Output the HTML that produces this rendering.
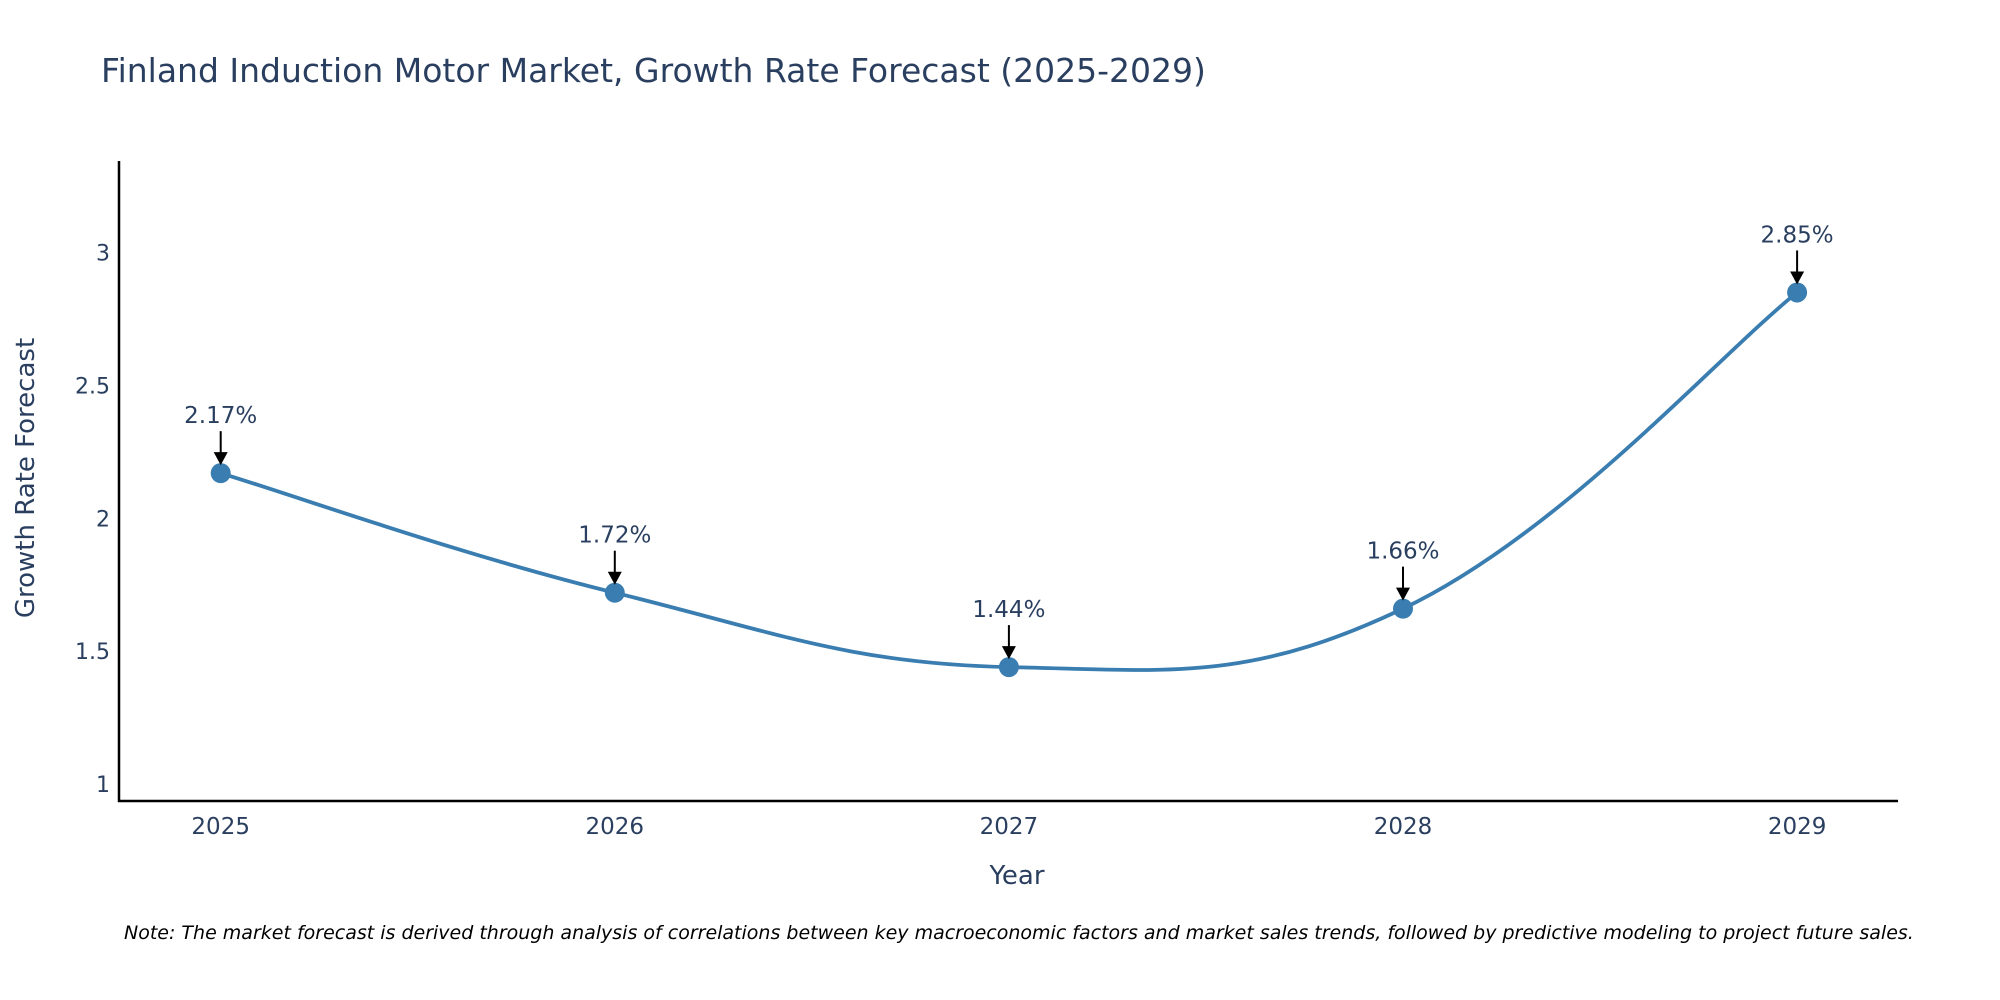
<!DOCTYPE html>
<html><head><meta charset="utf-8"><style>
html,body{margin:0;padding:0;background:#fff;}
svg{display:block;font-family:"DejaVu Sans","Liberation Sans",sans-serif;}
</style></head><body>
<svg id="chart" width="2000" height="1000" viewBox="0 0 2000 1000">
<text x="101" y="82" font-size="33" fill="#2a3f5f">Finland Induction Motor Market, Growth Rate Forecast (2025-2029)</text>
<g id="yticks"></g>
<g id="xticks"></g>
<line x1="119" y1="161" x2="119" y2="802" stroke="#000" stroke-width="2.5"/>
<line x1="118" y1="801" x2="1898" y2="801" stroke="#000" stroke-width="2.5"/>
<g id="series"></g>
<g id="annots"></g>
<text x="1017" y="884" font-size="26" fill="#2a3f5f" text-anchor="middle">Year</text>
<text transform="translate(34,478) rotate(-90)" font-size="26" fill="#2a3f5f" text-anchor="middle">Growth Rate Forecast</text>
<text x="124" y="939" font-size="19" font-style="italic" fill="#000">Note: The market forecast is derived through analysis of correlations between key macroeconomic factors and market sales trends, followed by predictive modeling to project future sales.</text>
</svg>
<script>
const years = [2025, 2026, 2027, 2028, 2029];
const growth = [2.17, 1.72, 1.44, 1.66, 2.85];
const yTicks = [1, 1.5, 2, 2.5, 3];
const NS = "http://www.w3.org/2000/svg";
function xs(v){return 220.7 + (v-2025)*394.1;}
function ys(v){return 784 - (v-1)*265.7;}
function mk(tag, attrs, parent){const e=document.createElementNS(NS,tag);for(const k in attrs)e.setAttribute(k,attrs[k]);parent.appendChild(e);return e;}
const yt=document.getElementById('yticks');
yTicks.forEach(t=>{const e=mk('text',{x:110,y:ys(t)+8,'font-size':22,fill:'#2a3f5f','text-anchor':'end'},yt);


e.textContent=String(t);});
const xt=document.getElementById('xticks');
years.forEach(y=>{const e=mk('text',{x:xs(y),y:834,'font-size':23,fill:'#2a3f5f','text-anchor':'middle'},xt);


e.textContent=String(y);});
const pts=years.map((y,i)=>[xs(y),ys(growth[i])]);
let d='M'+pts[0][0]+','+pts[0][1];
const s=1/5;
for(let i=0;i<pts.length-1;i++){const p0=pts[Math.max(i-1,0)],p1=pts[i],p2=pts[i+1],p3=pts[Math.min(i+2,pts.length-1)];
d+=' C'+(p1[0]+(p2[0]-p0[0])*s)+','+(p1[1]+(p2[1]-p0[1])*s)+' '+(p2[0]-(p3[0]-p1[0])*s)+','+(p2[1]-(p3[1]-p1[1])*s)+' '+p2[0]+','+p2[1];}
const ser=document.getElementById('series');
const line=mk('path',{d:d,fill:'none',stroke:'#3a7db0','stroke-width':3.8},ser);


const an=document.getElementById('annots');
pts.forEach((p,i)=>{
const c=mk('circle',{cx:p[0],cy:p[1],r:10,fill:'#3a7db0'},ser);


const a=mk('line',{x1:p[0],y1:p[1]-42,x2:p[0],y2:p[1]-20,stroke:'#000','stroke-width':2},an);


const h=mk('polygon',{points:(p[0]-7)+','+(p[1]-21)+' '+(p[0]+7)+','+(p[1]-21)+' '+p[0]+','+(p[1]-8)},an);


const t=mk('text',{x:p[0],y:p[1]-50,'font-size':23,fill:'#2a3f5f','text-anchor':'middle'},an);


t.textContent=growth[i].toFixed(2)+'%';});
</script>
</body></html>
